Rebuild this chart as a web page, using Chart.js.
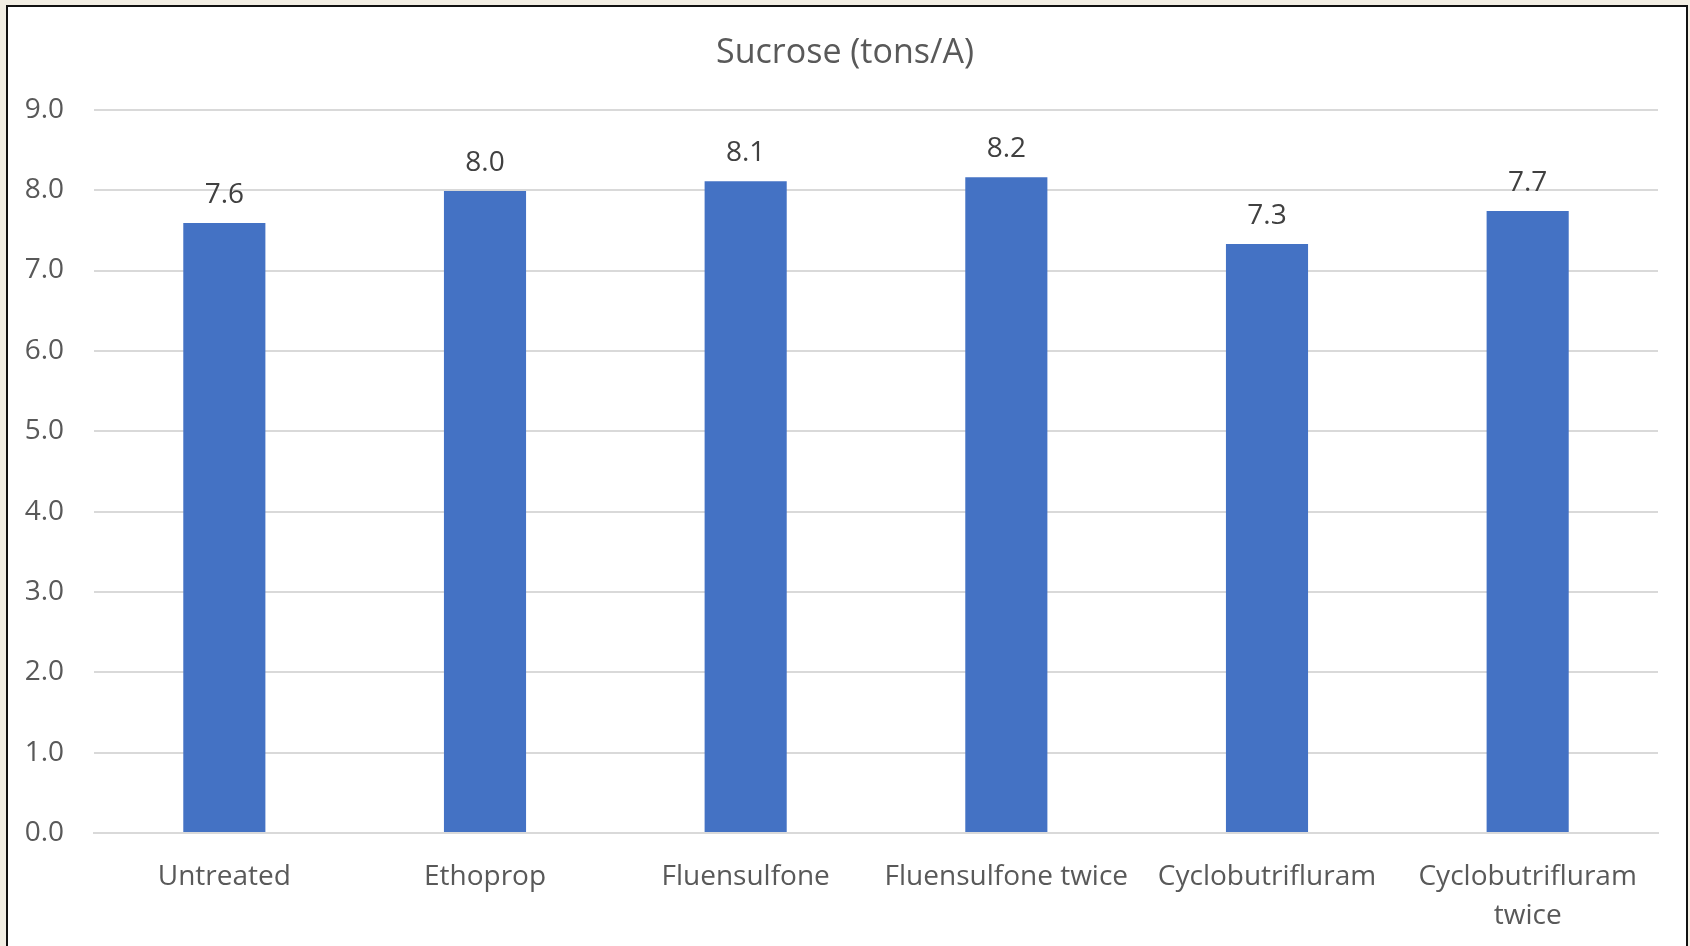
<!DOCTYPE html>
<html>
<head>
<meta charset="utf-8">
<script src="https://cdn.jsdelivr.net/npm/chart.js@4/dist/chart.umd.min.js"></script>
<style>
  html, body { margin: 0; padding: 0; }
  body { width: 1690px; height: 946px; overflow: hidden; background: #f2eee3; position: relative; }
  #frame {
    position: absolute; left: 6px; top: 5px; width: 1678px; height: 960px;
    background: #ffffff; border: 2.5px solid #111111;
  }
  #chart { position: absolute; left: 0; top: 0; }
</style>
</head>
<body>
<div id="frame"></div>
<canvas id="chart" width="1690" height="946"></canvas>
<script>
// Sucrose yield per treatment
const categories = ['Untreated', 'Ethoprop', 'Fluensulfone', 'Fluensulfone twice', 'Cyclobutrifluram', ['Cyclobutrifluram', 'twice']];
const sucroseTons = [7.59, 7.99, 8.11, 8.16, 7.33, 7.74];
const yTicks = [0, 1, 2, 3, 4, 5, 6, 7, 8, 9];

const FONT = "'Open Sans', 'Liberation Sans', sans-serif";

// Value labels above each bar, positioned from the bar elements
const barValueLabels = {
  id: 'barValueLabels',
  afterDatasetsDraw(chart) {
    const ctx = chart.ctx;
    const meta = chart.getDatasetMeta(0);
    ctx.save();
    ctx.font = '28px ' + FONT;
    ctx.fillStyle = '#404040';
    ctx.textAlign = 'center';
    ctx.textBaseline = 'alphabetic';
    meta.data.forEach((bar, i) => {
      const v = chart.data.datasets[0].data[i];
      ctx.fillText(v.toFixed(1), bar.x, bar.y - 20);
    });
    ctx.restore();
  }
};

new Chart(document.getElementById('chart'), {
  type: 'bar',
  data: {
    labels: categories,
    datasets: [{
      label: 'Sucrose (tons/A)',
      data: sucroseTons,
      backgroundColor: '#4472c4',
      borderWidth: 0,
      categoryPercentage: 1,
      barPercentage: 0.315
    }]
  },
  options: {
    responsive: false,
    animation: false,
    devicePixelRatio: 1,
    layout: { padding: 0 },
    plugins: {
      legend: { display: false },
      tooltip: { enabled: false },
      title: {
        display: true,
        text: 'Sucrose (tons/A)',
        color: '#595959',
        font: { family: FONT, size: 34, weight: 'normal' },
        padding: { top: 33, bottom: 36 }
      }
    },
    scales: {
      x: {
        grid: { display: false, drawTicks: false },
        border: { display: true, color: '#d9d9d9', width: 2 },
        ticks: {
          color: '#595959',
          font: { family: FONT, size: 28, lineHeight: 1.385 },
          padding: 25,
          maxRotation: 0,
          autoSkip: false
        },
        afterFit(scale) { scale.height = 113; }
      },
      y: {
        min: 0,
        max: 9,
        afterBuildTicks(scale) { scale.ticks = yTicks.map(v => ({ value: v })); },
        grid: { color: '#d9d9d9', lineWidth: 2, drawTicks: false },
        border: { display: false },
        ticks: {
          color: '#595959',
          font: { family: FONT, size: 28 },
          padding: 30,
          callback: v => Number(v).toFixed(1)
        },
        afterFit(scale) { scale.width = 94; }
      },
      // empty right-hand margin so the plot ends where the frame's inner area does
      yRight: {
        position: 'right',
        display: true,
        grid: { display: false, drawTicks: false },
        border: { display: false },
        ticks: { display: false },
        afterFit(scale) { scale.width = 32; }
      }
    }
  },
  plugins: [barValueLabels]
});
</script>
</body>
</html>
